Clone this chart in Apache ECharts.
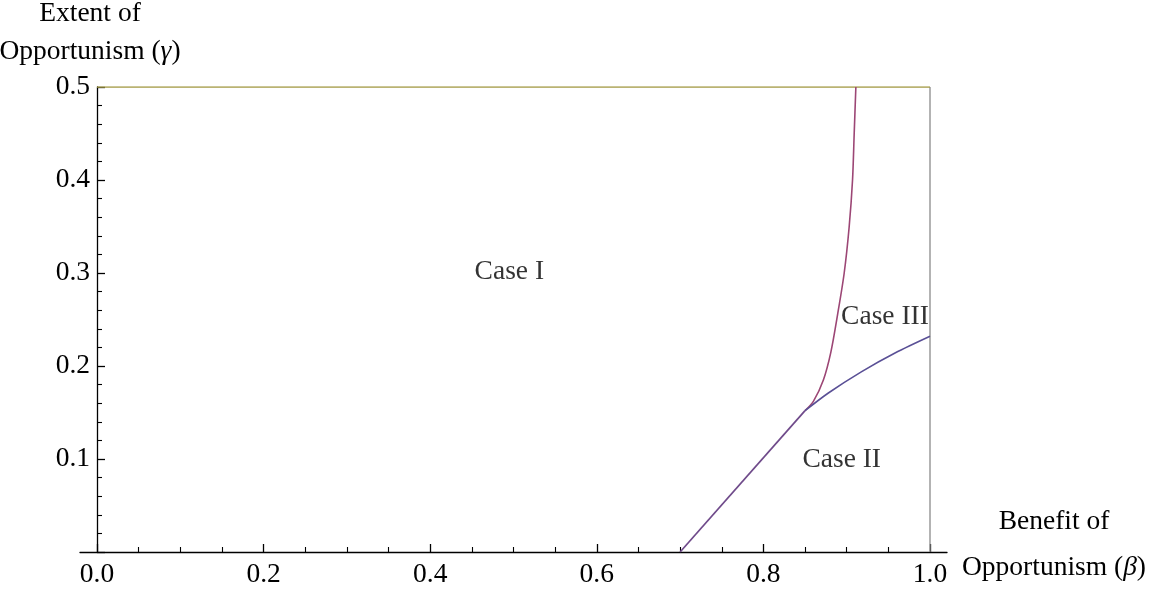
<!DOCTYPE html>
<html>
<head>
<meta charset="utf-8">
<script src="https://cdn.jsdelivr.net/npm/echarts@6/dist/echarts.min.js"></script>
<style>html,body{margin:0;padding:0;background:#fff;}#c{width:1149px;height:594px;}</style>
</head>
<body>
<div id="c"></div>
<script>
// ---- data ----
var xTickValues = [0, 0.2, 0.4, 0.6, 0.8, 1.0];
var xTickLabels = ['0.0', '0.2', '0.4', '0.6', '0.8', '1.0'];
var yTickValues = [0.1, 0.2, 0.3, 0.4, 0.5];
var yTickLabels = ['0.1', '0.2', '0.3', '0.4', '0.5'];

// shared straight boundary (Case I / Case II)
var segX = [0.700, 0.850];
var segY = [0.000, 0.152];
// lower boundary (Case II / Case III), blue
var blueX = [0.850, 0.878, 0.918, 0.958, 1.000];
var blueY = [0.152, 0.171, 0.194, 0.214, 0.232];
// steep boundary (Case I / Case III), pink
var pinkX = [0.850, 0.860, 0.872, 0.881, 0.889, 0.897, 0.903, 0.907, 0.909, 0.911];
var pinkY = [0.152, 0.162, 0.185, 0.215, 0.255, 0.300, 0.350, 0.400, 0.450, 0.500];
// upper bound gamma = 0.5, olive
var topX = [0.0, 1.0];
var topY = [0.5, 0.5];
// right bound beta = 1, gray
var rightX = [1.0, 1.0];
var rightY = [0.0, 0.5];

var caseNames = ['Case I', 'Case III', 'Case II'];
var caseX = [0.495, 0.946, 0.894];
var caseY = [0.301, 0.253, 0.099];

function zip(a, b) { return a.map(function (v, i) { return [v, b[i]]; }); }

var FONT = 'Liberation Serif';
var TXT = '#000';
var FS = 27.5;

var chart = echarts.init(document.getElementById('c'), null, { renderer: 'canvas' });
chart.setOption({
  backgroundColor: '#ffffff',
  animation: false,
  grid: [
    { left: 80, right: 202, top: 87, bottom: 42, containLabel: false, outerBoundsMode: 'none' },
    { left: 97, right: 219, top: 87, bottom: 42, containLabel: false, outerBoundsMode: 'none' }
  ],
  xAxis: [
    {
      gridIndex: 0, type: 'value', min: 0, max: 1,
      axisLine: { show: true, lineStyle: { color: '#000', width: 1.3 } },
      axisTick: { show: false }, axisLabel: { show: false }, splitLine: { show: false }
    },
    {
      gridIndex: 1, type: 'value', min: 0, max: 1, interval: 0.2,
      axisLine: { show: false },
      axisTick: { show: true, inside: true, length: 8, lineStyle: { color: '#000', width: 1.3 } },
      minorTick: { show: true, splitNumber: 4, length: 5, lineStyle: { color: '#000', width: 1.1 } },
      splitLine: { show: false },
      axisLabel: {
        margin: 9, fontFamily: FONT, fontSize: FS, color: TXT,
        formatter: function (v) {
          var i = xTickValues.findIndex(function (t) { return Math.abs(t - v) < 1e-9; });
          return i >= 0 ? xTickLabels[i] : '';
        }
      },
      name: '{n|Benefit of}\n{n|Opportunism (}{i|β}{n|)}',
      nameLocation: 'end',
      nameGap: 124,
      nameTextStyle: {
        align: 'center', verticalAlign: 'middle', padding: [0, 0, 14, 0],
        rich: {
          n: { fontFamily: FONT, fontSize: FS, color: TXT, lineHeight: 46 },
          i: { fontFamily: FONT, fontSize: FS, color: TXT, fontStyle: 'italic', lineHeight: 46 }
        }
      }
    }
  ],
  yAxis: [
    {
      gridIndex: 0, type: 'value', min: 0, max: 0.5, show: false
    },
    {
      gridIndex: 1, type: 'value', min: 0, max: 0.5, interval: 0.1,
      axisLine: { show: true, onZero: false, lineStyle: { color: '#000', width: 1.3 } },
      axisTick: { show: true, inside: true, length: 8, lineStyle: { color: '#000', width: 1.3 } },
      minorTick: { show: true, splitNumber: 5, length: 5, lineStyle: { color: '#000', width: 1.1 } },
      splitLine: { show: false },
      axisLabel: {
        margin: 7, fontFamily: FONT, fontSize: FS, color: TXT, showMinLabel: false,
        formatter: function (v) {
          var i = yTickValues.findIndex(function (t) { return Math.abs(t - v) < 1e-9; });
          return i >= 0 ? yTickLabels[i] : '';
        }
      },
      name: '{n|Extent of}\n{n|Opportunism (}{i|γ}{n|)}',
      nameLocation: 'end',
      nameGap: 16,
      nameTextStyle: {
        align: 'center', verticalAlign: 'bottom', padding: [0, 14, 0, 0],
        rich: {
          n: { fontFamily: FONT, fontSize: FS, color: TXT, lineHeight: 38 },
          i: { fontFamily: FONT, fontSize: FS, color: TXT, fontStyle: 'italic', lineHeight: 38 }
        }
      }
    }
  ],
  series: [
    {
      type: 'line', xAxisIndex: 1, yAxisIndex: 1, data: zip(rightX, rightY),
      symbol: 'none', lineStyle: { color: '#8a8a8a', width: 1.3 }, z: 2
    },
    {
      type: 'line', xAxisIndex: 1, yAxisIndex: 1, data: zip(topX, topY),
      symbol: 'none', lineStyle: { color: '#a39a45', width: 1.6 }, z: 3
    },
    {
      type: 'line', xAxisIndex: 1, yAxisIndex: 1, data: zip(pinkX, pinkY),
      symbol: 'none', smooth: 0.3,
      lineStyle: { color: '#9c4675', width: 1.6 }, z: 4
    },
    {
      type: 'line', xAxisIndex: 1, yAxisIndex: 1, data: zip(blueX, blueY),
      symbol: 'none', smooth: 0.3,
      lineStyle: { color: '#5a5096', width: 1.6 }, z: 5
    },
    {
      type: 'line', xAxisIndex: 1, yAxisIndex: 1, data: zip(segX, segY),
      symbol: 'none',
      lineStyle: { color: '#6f4a8a', width: 1.7 }, z: 5
    },
    {
      type: 'scatter', xAxisIndex: 1, yAxisIndex: 1, symbolSize: 0, silent: true,
      data: caseNames.map(function (n, i) { return { name: n, value: [caseX[i], caseY[i]] }; }),
      label: {
        show: true, position: 'inside', formatter: '{b}',
        fontFamily: FONT, fontSize: FS, color: TXT
      }, z: 6
    }
  ]
});
</script>
</body>
</html>
